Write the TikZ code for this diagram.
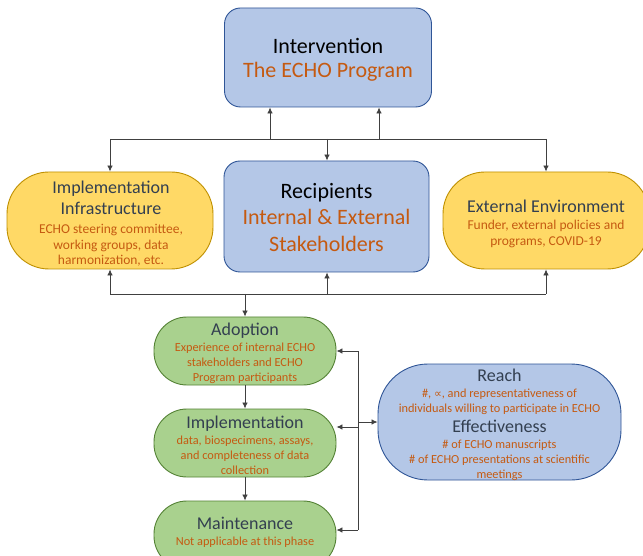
\documentclass[tikz,border=0pt]{standalone}
\usepackage{fontspec}
\setmainfont{Carlito}
\newfontfamily\dejavu{DejaVu Sans}
\usetikzlibrary{arrows.meta}
\definecolor{blueF}{HTML}{B4C7E7}
\definecolor{blueD}{HTML}{2F5597}
\definecolor{yelF}{HTML}{FFD966}
\definecolor{yelD}{HTML}{BF9000}
\definecolor{grnF}{HTML}{A9D18E}
\definecolor{grnD}{HTML}{548235}
\definecolor{orng}{HTML}{C55A11}
\definecolor{ttlc}{HTML}{333F50}
\definecolor{linec}{HTML}{404040}
\newcommand\bigttl[1]{{\fontsize{22}{26}\selectfont #1}}
\newcommand\midttl[1]{{\fontsize{18}{22}\selectfont\color{ttlc}#1}}
\newcommand\subt[1]{{\color{orng}#1}}
\tikzset{
  shapebox/.style={inner sep=0pt, line width=0.9pt},
  bluebox/.style={shapebox, fill=blueF, draw=blueD, rounded corners=16pt},
  yelbox/.style={shapebox, fill=yelF, draw=yelD, rounded corners=42pt, minimum width=206pt, minimum height=97pt},
  grnbox/.style={shapebox, fill=grnF, draw=grnD, rounded corners=33pt, minimum width=182pt, minimum height=68pt},
  txt/.style={align=center, inner sep=0pt},
  bigtxt/.style={txt, font=\fontsize{12}{15}\selectfont},
  yeltxt/.style={txt, font=\fontsize{13.5}{15.3}\selectfont},
  grntxt/.style={txt, font=\fontsize{12.3}{15}\selectfont},
  conn/.style={draw=linec, line width=0.8pt},
  arr/.style={conn, -{Latex[length=6pt,width=5.5pt]}}
}
\begin{document}
\begin{tikzpicture}[x=1pt,y=-1pt]
\useasboundingbox (0,0) rectangle (643,556);
\clip (0,0) rectangle (643,556);
\fill[white] (0,0) rectangle (643,556);

% boxes
\node[bluebox, minimum width=207pt, minimum height=99pt] (interv) at (328,57.5) {};
\node[bluebox, minimum width=205pt, minimum height=111pt] (recip) at (326.5,216.5) {};
\node[yelbox] (infra) at (110,220.5) {};
\node[yelbox] (extenv) at (546,220.5) {};
\node[grnbox] (adopt) at (245,351) {};
\node[grnbox] (impl) at (245,443) {};
\node[grnbox] (maint) at (245,535) {};
\node[bluebox, rounded corners=50pt, minimum width=243pt, minimum height=116pt] (reach) at (499.5,422) {};

% texts
\node[bigtxt] (interv-t) at (328,60)
  {\bigttl{Intervention}\\[8pt] \bigttl{\color{orng}The ECHO Program}};
\node[bigtxt] (recip-t) at (326.5,217.5)
  {\bigttl{Recipients}\\[6pt] \bigttl{\color{orng}Internal \& External}\\[10pt] \bigttl{\color{orng}Stakeholders}};
\node[yeltxt] (infra-t) at (111,223.5)
  {\midttl{Implementation}\\[6pt] \midttl{Infrastructure}\\[4pt] \subt{ECHO steering committee,}\\ \subt{working groups, data}\\ \subt{harmonization, etc.}};
\node[yeltxt] (extenv-t) at (546,224)
  {\midttl{External Environment}\\[2pt] \subt{Funder, external policies and}\\[1pt] \subt{programs, COVID-19}};
\node[grntxt] (adopt-t) at (245,353)
  {\midttl{Adoption}\\[1pt] \subt{Experience of internal ECHO}\\ \subt{stakeholders and ECHO}\\ \subt{Program participants}};
\node[grntxt] (impl-t) at (245,445)
  {\midttl{Implementation}\\[1pt] \subt{data, biospecimens, assays,}\\ \subt{and completeness of data}\\ \subt{collection}};
\node[grntxt] (maint-t) at (245,532)
  {\midttl{Maintenance}\\[1pt] \subt{Not applicable at this phase}};
\node[grntxt] (reach-t) at (499.5,425)
  {\midttl{Reach}\\[1pt] \subt{\#, {\dejavu\fontsize{11}{15}\selectfont ∝}, and representativeness of}\\ \subt{individuals willing to participate in ECHO}\\[5pt] \midttl{Effectiveness}\\[1pt] \subt{\# of ECHO manuscripts}\\ \subt{\# of ECHO presentations at scientific}\\ \subt{meetings}};

% top distribution line
\coordinate (tl) at (110,139);
\coordinate (tr) at (546,139);
\coordinate (tm) at (327,139);
\coordinate (u1) at (270,139);
\coordinate (u2) at (379,139);
\draw[conn] (tl) -- (tr);
\draw[arr] (tl) -- (infra.north);
\draw[arr] (tr) -- (extenv.north);
\draw[arr] (tm) -- (tm |- recip.north);
\draw[arr] (u1) -- (u1 |- interv.south);
\draw[arr] (u2) -- (u2 |- interv.south);

% bottom collection line
\coordinate (bl) at (110,294);
\coordinate (br) at (546,294);
\coordinate (bm) at (327,294);
\coordinate (bd) at (245,294);
\draw[conn] (bl) -- (br);
\draw[arr] (bl) -- (infra.south);
\draw[arr] (br) -- (extenv.south);
\draw[arr] (bm) -- (bm |- recip.south);
\draw[arr] (bd) -- (adopt.north);

% RE-AIM chain
\draw[arr] (adopt.south) -- (impl.north);
\draw[arr] (impl.south) -- (maint.north);

% right bracket
\coordinate (v1) at (358,351);
\coordinate (v2) at (358,427);
\coordinate (v3) at (358,530);
\coordinate (vr) at (358,422);
\draw[conn] (v1) -- (v3);
\draw[arr] (v1) -- (adopt.east);
\draw[arr] (v2) -- (impl.east |- v2);
\draw[arr] (v3) -- (maint.east |- v3);
\draw[arr] (vr) -- (reach.west);
\end{tikzpicture}
\end{document}
